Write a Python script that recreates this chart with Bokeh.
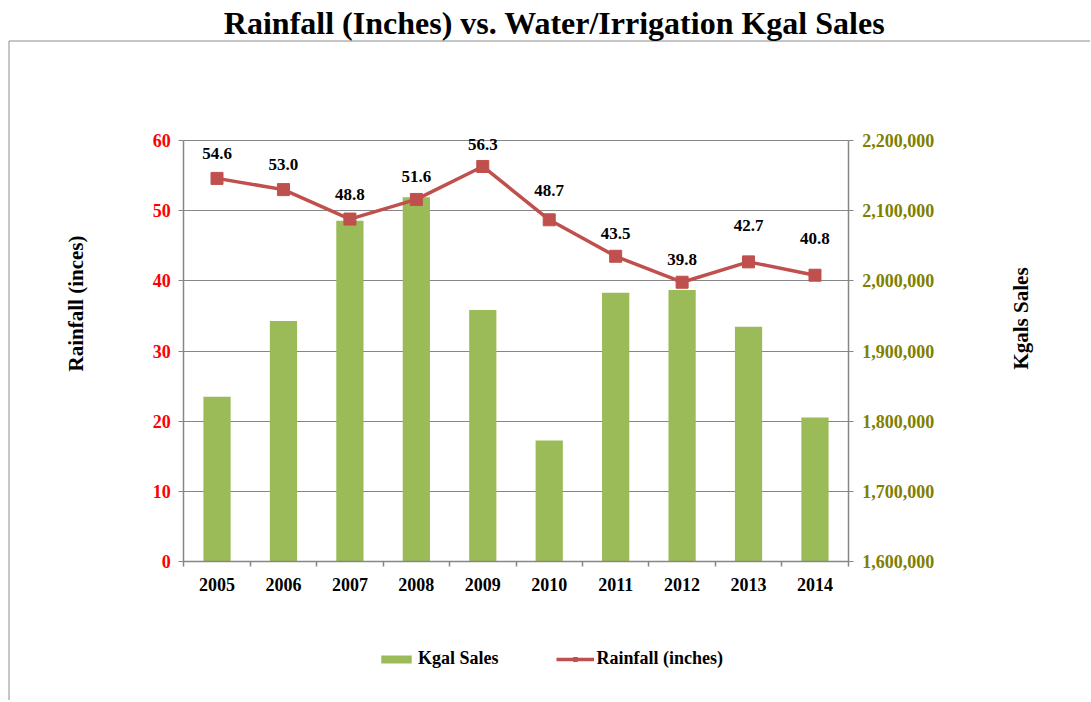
import math
from bokeh.plotting import figure
from bokeh.models import (Range1d, LinearAxis, FixedTicker, NumeralTickFormatter,
                          ColumnDataSource, LabelSet, Label, Legend, LegendItem,
                          BoxAnnotation)
from bokeh.embed import file_html
from bokeh.resources import INLINE

# ---- data ----
years = ["2005", "2006", "2007", "2008", "2009", "2010", "2011", "2012", "2013", "2014"]
rainfall = [54.6, 53.0, 48.8, 51.6, 56.3, 48.7, 43.5, 39.8, 42.7, 40.8]
kgal_sales = [1834700, 1942600, 2085700, 2119000, 1958300, 1772300, 1983000, 1986900, 1934500, 1805100]
rain_ticks = [0, 10, 20, 30, 40, 50, 60]
kgal_ticks = [1600000, 1700000, 1800000, 1900000, 2000000, 2100000, 2200000]

# ---- styling ----
FONT = "Liberation Serif"
BAR_COLOR = "#9BBB59"
LINE_COLOR = "#C0504D"
GRID_COLOR = "#868686"
RIGHT_COLOR = "#808000"
BORDER_COLOR = "#8C8C8C"
# per-label vertical nudges (px) mimicking the hand-placed labels of the original
label_offsets_px = [25, 25, 25, 23, 22, 29, 23, 23, 36, 37]

# ---- layout geometry (canvas pixels) ----
W, H = 1090, 700
PLOT_LEFT, PLOT_RIGHT = 183.3, 847.7     # left / right axis lines
PLOT_TOP, PLOT_BOTTOM = 140.0, 561.0     # top gridline / x axis line

idx = list(range(1, len(years) + 1))
x_lo, x_hi = 0.5, len(years) + 0.5
rain_min, rain_max = rain_ticks[0], rain_ticks[-1]
kgal_min, kgal_max = kgal_ticks[0], kgal_ticks[-1]

sx = (PLOT_RIGHT - PLOT_LEFT) / (x_hi - x_lo)          # px per category
sy = (PLOT_BOTTOM - PLOT_TOP) / (rain_max - rain_min)  # px per inch
kgal_per_inch = (kgal_max - kgal_min) / (rain_max - rain_min)


def xd(px):
    return x_lo + (px - PLOT_LEFT) / sx


def yd(py):
    return rain_min + (PLOT_BOTTOM - py) / sy


y0, y1 = yd(H), yd(0)

p = figure(
    width=W, height=H, min_border=0,
    x_range=Range1d(xd(0), xd(W)),
    y_range=Range1d(y0, y1),
    output_backend="svg", toolbar_location=None,
    background_fill_color="white", border_fill_color="white",
)
p.outline_line_color = None
p.extra_y_ranges = {"kgal": Range1d(kgal_min + (y0 - rain_min) * kgal_per_inch,
                                    kgal_min + (y1 - rain_min) * kgal_per_inch)}

# chart-area border
p.add_layout(BoxAnnotation(left=xd(8.5), right=xd(W + 50), top=yd(40.5), bottom=yd(H + 50),
                           fill_alpha=0, line_color=BORDER_COLOR, line_alpha=1.0,
                           line_width=1, level="underlay"))

# x axis fixed at rainfall 0; ticks at category boundaries (minor), labels at centers
xa = p.xaxis[0]
xa.fixed_location = rain_min
xa.bounds = (x_lo, x_hi)
xa.ticker = FixedTicker(ticks=idx, minor_ticks=[i - 0.5 for i in idx] + [idx[-1] + 0.5])
xa.major_label_overrides = {i: y for i, y in zip(idx, years)}
xa.major_tick_out = 0
xa.major_tick_in = 0
xa.minor_tick_out = 5
xa.minor_tick_in = 0
xa.minor_tick_line_color = GRID_COLOR
xa.minor_tick_line_width = 1.5
xa.axis_line_color = GRID_COLOR
xa.axis_line_width = 1.5
xa.major_label_standoff = 11
xa.major_label_text_font = FONT
xa.major_label_text_font_style = "bold"
xa.major_label_text_font_size = "18px"
xa.major_label_text_color = "black"

# left axis
ya = p.yaxis[0]
ya.fixed_location = x_lo
ya.ticker = FixedTicker(ticks=rain_ticks)
ya.bounds = (rain_min, rain_max)
ya.axis_line_color = GRID_COLOR
ya.axis_line_width = 1.5
ya.major_tick_line_color = GRID_COLOR
ya.major_tick_out = 5
ya.major_tick_in = 0
ya.minor_tick_line_color = None
ya.major_label_standoff = 8
ya.major_label_text_font = FONT
ya.major_label_text_font_style = "bold"
ya.major_label_text_font_size = "18px"
ya.major_label_text_color = "#FF0000"

# right axis
ra = LinearAxis(y_range_name="kgal", ticker=FixedTicker(ticks=kgal_ticks),
                formatter=NumeralTickFormatter(format="0,0"))
ra.fixed_location = x_hi
ra.bounds = (kgal_min, kgal_max)
ra.axis_line_color = GRID_COLOR
ra.axis_line_width = 1.5
ra.major_tick_line_color = GRID_COLOR
ra.major_tick_out = 5
ra.major_tick_in = 0
ra.minor_tick_line_color = None
ra.major_label_standoff = 9
ra.major_label_text_font = FONT
ra.major_label_text_font_style = "bold"
ra.major_label_text_font_size = "18px"
ra.major_label_text_color = RIGHT_COLOR
p.add_layout(ra, "right")

# horizontal gridlines limited to the plot area
p.xgrid.grid_line_color = None
try:
    p.ygrid.cross_bounds = (x_lo, x_hi)
    p.ygrid.bounds = (rain_min, rain_max)
    p.ygrid.ticker = FixedTicker(ticks=rain_ticks)
    p.ygrid.grid_line_color = GRID_COLOR
    p.ygrid.grid_line_width = 1
except Exception:
    p.ygrid.grid_line_color = None
    p.segment(x0=x_lo, x1=x_hi, y0=rain_ticks, y1=rain_ticks,
              line_color=GRID_COLOR, line_width=1, level="underlay")

# bars (right axis)
bars = p.vbar(x=idx, top=kgal_sales, bottom=kgal_min, width=0.41, y_range_name="kgal",
              fill_color=BAR_COLOR, line_color=None)

# rainfall line + markers (left axis)
line = p.line(idx, rainfall, line_color=LINE_COLOR, line_width=3.5)
marks = p.scatter(idx, rainfall, marker="square", size=12, fill_color=LINE_COLOR,
                  line_color=LINE_COLOR)

src = ColumnDataSource(dict(x=idx, y=rainfall, txt=["{:.1f}".format(v) for v in rainfall],
                            dy=label_offsets_px))
p.add_layout(LabelSet(x="x", y="y", text="txt", source=src, y_offset="dy",
                      text_align="center", text_baseline="middle",
                      text_font=FONT, text_font_style="bold", text_font_size="17px",
                      text_color="black"))

# title and axis titles
p.add_layout(Label(x=xd(554), y=yd(22), text="Rainfall (Inches) vs. Water/Irrigation Kgal Sales",
                   text_align="center", text_baseline="middle", text_font=FONT,
                   text_font_style="bold", text_font_size="32px", text_color="black"))
p.add_layout(Label(x=xd(75.7), y=yd(303), text="Rainfall (inces)", angle=90, angle_units="deg",
                   text_align="center", text_baseline="middle", text_font=FONT,
                   text_font_style="bold", text_font_size="21px", text_color="black"))
p.add_layout(Label(x=xd(1020.7), y=yd(318), text="Kgals Sales", angle=90, angle_units="deg",
                   text_align="center", text_baseline="middle", text_font=FONT,
                   text_font_style="bold", text_font_size="21px", text_color="black"))

legend = Legend(items=[LegendItem(label="Kgal Sales", renderers=[bars]),
                       LegendItem(label="Rainfall (inches)", renderers=[line, marks])],
                orientation="horizontal", location=(377, H - 669),
                glyph_width=38, glyph_height=10, label_standoff=3, spacing=57,
                padding=0, margin=0, border_line_color=None, background_fill_alpha=0,
                label_text_font=FONT, label_text_font_style="bold",
                label_text_font_size="18px", label_text_color="black")
p.add_layout(legend, "center")

open("out.html", "w").write(file_html(p, INLINE))
